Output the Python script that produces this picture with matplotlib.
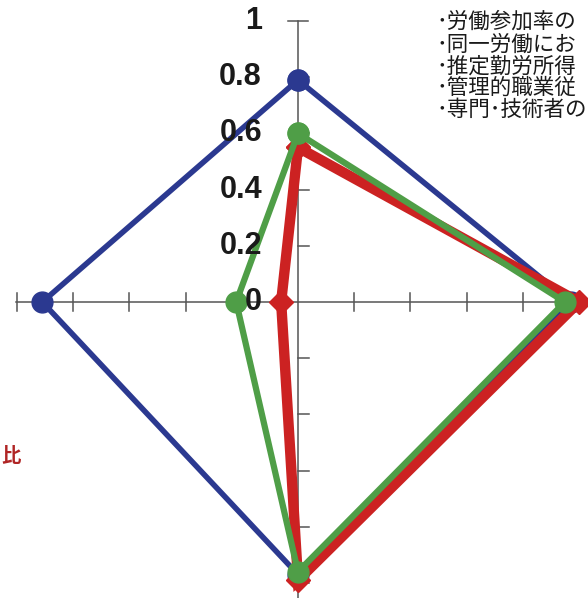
import matplotlib
matplotlib.use("Agg")
import matplotlib.pyplot as plt

# directions: top, right, bottom, left
series_names = ["blue", "red", "green"]
blue_vals = [0.79, 0.97, 0.97, 0.91]
red_vals = [0.55, 1.00, 0.99, 0.06]
green_vals = [0.60, 0.95, 0.96, 0.22]
tick_vals = [0.2, 0.4, 0.6, 0.8, 1.0]
tick_labels = ["0", "0.2", "0.4", "0.6", "0.8", "1"]
label_vals = [0, 0.2, 0.4, 0.6, 0.8, 1.0]
legend_lines = ["･労働参加率の", "･同一労働にお", "･推定勤労所得", "･管理的職業従", "･専門･技術者の"]
left_label = "比"

W, H = 588, 598
PX = 281.0  # pixels per unit
cx, cy = 298, 302

fig = plt.figure(figsize=(W / 100, H / 100), dpi=100)
ax = fig.add_axes([0, 0, 1, 1])
ax.set_xlim(-cx / PX, (W - cx) / PX)
ax.set_ylim(-(H - cy) / PX, cy / PX)
ax.set_aspect("equal")
ax.axis("off")

axis_col = "#555555"
ax.plot([-1.005, 1.1], [0, 0], color=axis_col, lw=1.1, zorder=1)
ax.plot([0, 0], [1.0, -1.1], color=axis_col, lw=1.1, zorder=1)
t = 10 / PX
for v in tick_vals:
    ax.plot([v, v], [-t * 0.9, t * 0.9], color=axis_col, lw=1.1, zorder=1)
    ax.plot([-v, -v], [-t * 0.9, t * 0.9], color=axis_col, lw=1.1, zorder=1)
    if v < 1.0:
        ax.plot([0, t * 1.1], [v, v], color=axis_col, lw=1.1, zorder=1)
    else:
        ax.plot([-t, t], [v, v], color=axis_col, lw=1.1, zorder=1)
    ax.plot([0, t * 1.1], [-v, -v], color=axis_col, lw=1.1, zorder=1)


def poly(vals):
    top, right, bottom, left = vals
    xs = [0, right, 0, -left, 0]
    ys = [top, 0, -bottom, 0, top]
    return xs, ys


styles = {
    "blue": dict(vals=blue_vals, color="#2B3990", lw=4.0, marker="o", ms=15, z=3),
    "red": dict(vals=red_vals, color="#CC2222", lw=7.5, marker="D", ms=12, z=4),
    "green": dict(vals=green_vals, color="#4F9E47", lw=4.5, marker="o", ms=15, z=5),
}
for name in series_names:
    s = styles[name]
    xs, ys = poly(s["vals"])
    ax.plot(xs, ys, color=s["color"], lw=s["lw"], marker=s["marker"], ms=s["ms"],
            mec=s["color"], mfc=s["color"], solid_joinstyle="miter", zorder=s["z"],
            clip_on=False)

for v, lab in zip(label_vals, tick_labels):
    ax.text(-36 / PX, v, lab, ha="right", va="center", fontsize=22,
            fontweight="bold", family=["Liberation Sans", "DejaVu Sans"],
            color="#1a1a1a", zorder=6)

fam = ["Noto Sans CJK JP", "DejaVu Sans"]
ys_px = [22, 45, 67, 88, 110]
for i, (line, ypx) in enumerate(zip(legend_lines, ys_px)):
    fig.text(436 / W, 1 - ypx / H, line, ha="left", va="center", fontsize=15.5,
             family=fam, color="#1a1a1a",
             style="italic" if i == 4 else "normal")

fig.text(1 / W, 1 - 457 / H, left_label, ha="left", va="center", fontsize=14,
         fontweight="bold", family=fam, color="#B02525")

fig.savefig("out.png", dpi=100)
